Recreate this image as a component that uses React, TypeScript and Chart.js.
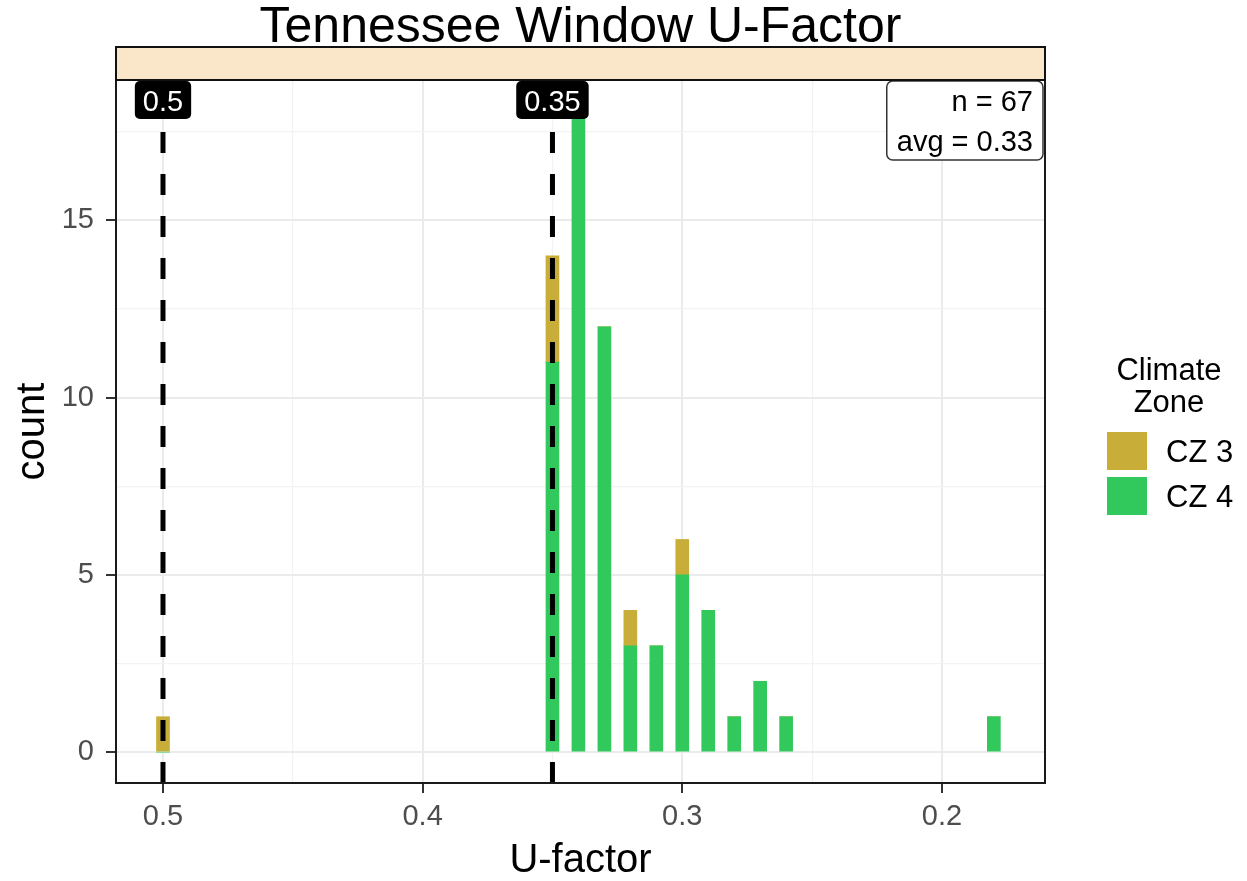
import React, { useEffect, useRef } from "react";
import { Chart, registerables } from "chart.js";

Chart.register(...registerables);

const chartTitle = "Tennessee Window U-Factor";
const xTitle = "U-factor";
const yTitle = "count";

const uFactors = [0.5, 0.35, 0.34, 0.33, 0.32, 0.31, 0.3, 0.29, 0.28, 0.27, 0.26, 0.18];
const cz3Counts = [1, 3, 0, 0, 1, 0, 1, 0, 0, 0, 0, 0];
const cz4Counts = [0, 11, 18, 12, 3, 3, 5, 4, 1, 2, 1, 1];

const seriesNames = ["CZ 3", "CZ 4"];
const seriesColors = ["#C8AE38", "#31C95B"];
const legendTitle = ["Climate", "Zone"];

const xMajorTicks = [0.5, 0.4, 0.3, 0.2];
const xTickLabels = ["0.5", "0.4", "0.3", "0.2"];
const xMinorTicks = [0.45, 0.35, 0.25];
const yMajorTicks = [0, 5, 10, 15];
const yTickLabels = ["0", "5", "10", "15"];
const yMinorTicks = [2.5, 7.5, 12.5, 17.5];

const xRange = [0.1603, 0.5181];
const yRange = [-0.87, 18.96];

const refLines = [0.5, 0.35];
const refLabels = ["0.5", "0.35"];
const statLines = ["n = 67", "avg = 0.33"];

const FONT = "'Liberation Sans', Arial, Helvetica, sans-serif";

function findIdx(arr: number[], v: number) {
  return arr.findIndex((a) => Math.abs(a - v) < 1e-6);
}

function roundRect(ctx: CanvasRenderingContext2D, x: number, y: number, w: number, h: number, r: number) {
  ctx.beginPath();
  ctx.moveTo(x + r, y);
  ctx.lineTo(x + w - r, y);
  ctx.arcTo(x + w, y, x + w, y + r, r);
  ctx.lineTo(x + w, y + h - r);
  ctx.arcTo(x + w, y + h, x + w - r, y + h, r);
  ctx.lineTo(x + r, y + h);
  ctx.arcTo(x, y + h, x, y + h - r, r);
  ctx.lineTo(x, y + r);
  ctx.arcTo(x, y, x + r, y, r);
  ctx.closePath();
}

const decorPlugin = {
  id: "decor",
  afterDatasetsDraw(chart: any) {
    const { ctx, chartArea: ca, scales } = chart;
    const x = scales.x;
    ctx.save();
    ctx.beginPath();
    ctx.rect(ca.left, ca.top, ca.right - ca.left, ca.bottom - ca.top);
    ctx.clip();
    ctx.strokeStyle = "#000";
    ctx.lineWidth = 5;
    ctx.setLineDash([21, 21]);
    refLines.forEach((v) => {
      const px = x.getPixelForValue(v);
      ctx.beginPath();
      ctx.moveTo(px, ca.bottom);
      ctx.lineTo(px, ca.top);
      ctx.stroke();
    });
    ctx.restore();

    // reference labels
    ctx.save();
    ctx.font = `29px ${FONT}`;
    refLines.forEach((v, i) => {
      const px = x.getPixelForValue(v);
      const tw = ctx.measureText(refLabels[i]).width;
      const w = tw + 16;
      const top = ca.top + 1;
      const h = 38;
      ctx.fillStyle = "#000";
      roundRect(ctx, px - w / 2, top, w, h, 5);
      ctx.fill();
      ctx.fillStyle = "#fff";
      ctx.textAlign = "center";
      ctx.textBaseline = "alphabetic";
      ctx.fillText(refLabels[i], px, top + 30);
    });
    ctx.restore();

    // stats box
    ctx.save();
    ctx.font = `29px ${FONT}`;
    const maxW = Math.max(...statLines.map((s) => ctx.measureText(s).width));
    const bw = maxW + 20;
    const bx = ca.right - 2 - bw;
    const by = ca.top + 1;
    const bh = 79;
    ctx.fillStyle = "#fff";
    ctx.strokeStyle = "#333";
    ctx.lineWidth = 1.5;
    roundRect(ctx, bx, by, bw, bh, 6);
    ctx.fill();
    ctx.stroke();
    ctx.fillStyle = "#000";
    ctx.textAlign = "right";
    ctx.textBaseline = "alphabetic";
    statLines.forEach((s, i) => {
      ctx.fillText(s, bx + bw - 10, by + 30 + i * 40);
    });
    ctx.restore();
  },
  afterDraw(chart: any) {
    const { ctx, chartArea: ca } = chart;
    ctx.save();
    // panel border
    ctx.strokeStyle = "#1A1A1A";
    ctx.lineWidth = 2;
    ctx.strokeRect(ca.left, ca.top, ca.right - ca.left, ca.bottom - ca.top);
    // strip
    ctx.fillStyle = "#FAE6C9";
    ctx.fillRect(ca.left, 47, ca.right - ca.left, ca.top - 47);
    ctx.strokeStyle = "#111";
    ctx.strokeRect(ca.left, 47, ca.right - ca.left, ca.top - 47);
    // title
    const cx = (ca.left + ca.right) / 2;
    ctx.fillStyle = "#000";
    ctx.font = `50px ${FONT}`;
    ctx.textAlign = "center";
    ctx.textBaseline = "alphabetic";
    ctx.fillText(chartTitle, cx, 42);
    // axis titles
    ctx.font = `40px ${FONT}`;
    ctx.fillText(xTitle, cx, 872);
    ctx.save();
    ctx.translate(44, (ca.top + ca.bottom) / 2);
    ctx.rotate(-Math.PI / 2);
    ctx.fillText(yTitle, 0, 0);
    ctx.restore();
    // legend
    ctx.font = `31px ${FONT}`;
    ctx.fillText(legendTitle[0], 1169, 380);
    ctx.fillText(legendTitle[1], 1169, 412);
    ctx.textAlign = "left";
    seriesNames.forEach((name, i) => {
      const ky = 432 + i * 45;
      ctx.fillStyle = seriesColors[i];
      ctx.fillRect(1107, ky, 40, 38);
      ctx.fillStyle = "#000";
      ctx.fillText(name, 1166, ky + 30);
    });
    ctx.restore();
  },
};

export default function App() {
  const canvasRef = useRef<HTMLCanvasElement | null>(null);

  useEffect(() => {
    document.body.style.margin = "0";
    document.body.style.overflow = "hidden";
    const canvas = canvasRef.current;
    if (!canvas) return;

    const xAllTicks = [...xMajorTicks, ...xMinorTicks];
    const yAllTicks = [...yMajorTicks, ...yMinorTicks];

    const chart = new Chart(canvas, {
      type: "bar",
      data: {
        datasets: [
          {
            label: seriesNames[1],
            data: uFactors.map((u, i) => ({ x: u, y: cz4Counts[i] })),
            backgroundColor: seriesColors[1],
            borderWidth: 0,
            barThickness: 13,
            stack: "cz",
          },
          {
            label: seriesNames[0],
            data: uFactors.map((u, i) => ({ x: u, y: cz3Counts[i] })),
            backgroundColor: seriesColors[0],
            borderWidth: 0,
            barThickness: 13,
            stack: "cz",
          },
        ],
      },
      options: {
        animation: false,
        responsive: false,
        devicePixelRatio: 1,
        layout: { padding: { left: 0, top: 80, right: 202, bottom: 0 } },
        plugins: {
          legend: { display: false },
          title: { display: false },
          tooltip: { enabled: false },
        },
        scales: {
          x: {
            type: "linear",
            reverse: true,
            min: xRange[0],
            max: xRange[1],
            offset: false,
            afterBuildTicks: (axis: any) => {
              axis.ticks = xAllTicks.map((v) => ({ value: v }));
            },
            afterFit: (axis: any) => {
              axis.height = 98;
            },
            border: { display: false },
            grid: {
              offset: false,
              drawOnChartArea: true,
              drawTicks: true,
              tickLength: 10,
              tickWidth: 2,
              color: (c: any) => (c.tick && findIdx(xMajorTicks, c.tick.value) >= 0 ? "#EBEBEB" : "#F3F3F3"),
              lineWidth: (c: any) => (c.tick && findIdx(xMajorTicks, c.tick.value) >= 0 ? 2 : 1.2),
              tickColor: (c: any) => (c.tick && findIdx(xMajorTicks, c.tick.value) >= 0 ? "#333" : "rgba(0,0,0,0)"),
            },
            ticks: {
              autoSkip: false,
              maxRotation: 0,
              padding: 7,
              color: "#4D4D4D",
              font: { family: FONT, size: 29 },
              callback: (v: any) => {
                const i = findIdx(xMajorTicks, Number(v));
                return i >= 0 ? xTickLabels[i] : "";
              },
            },
          },
          y: {
            type: "linear",
            stacked: true,
            min: yRange[0],
            max: yRange[1],
            afterBuildTicks: (axis: any) => {
              axis.ticks = yAllTicks.map((v) => ({ value: v }));
            },
            afterFit: (axis: any) => {
              axis.width = 116;
            },
            border: { display: false },
            grid: {
              drawOnChartArea: true,
              drawTicks: true,
              tickLength: 10,
              tickWidth: 2,
              color: (c: any) => (c.tick && findIdx(yMajorTicks, c.tick.value) >= 0 ? "#EBEBEB" : "#F3F3F3"),
              lineWidth: (c: any) => (c.tick && findIdx(yMajorTicks, c.tick.value) >= 0 ? 2 : 1.2),
              tickColor: (c: any) => (c.tick && findIdx(yMajorTicks, c.tick.value) >= 0 ? "#333" : "rgba(0,0,0,0)"),
            },
            ticks: {
              autoSkip: false,
              padding: 12,
              color: "#4D4D4D",
              font: { family: FONT, size: 29 },
              callback: (v: any) => {
                const i = findIdx(yMajorTicks, Number(v));
                return i >= 0 ? yTickLabels[i] : "";
              },
            },
          },
        },
      } as any,
      plugins: [decorPlugin],
    });

    return () => chart.destroy();
  }, []);

  return (
    <div style={{ width: 1247, height: 881, background: "#fff" }}>
      <canvas ref={canvasRef} width={1247} height={881} style={{ display: "block" }} />
    </div>
  );
}
